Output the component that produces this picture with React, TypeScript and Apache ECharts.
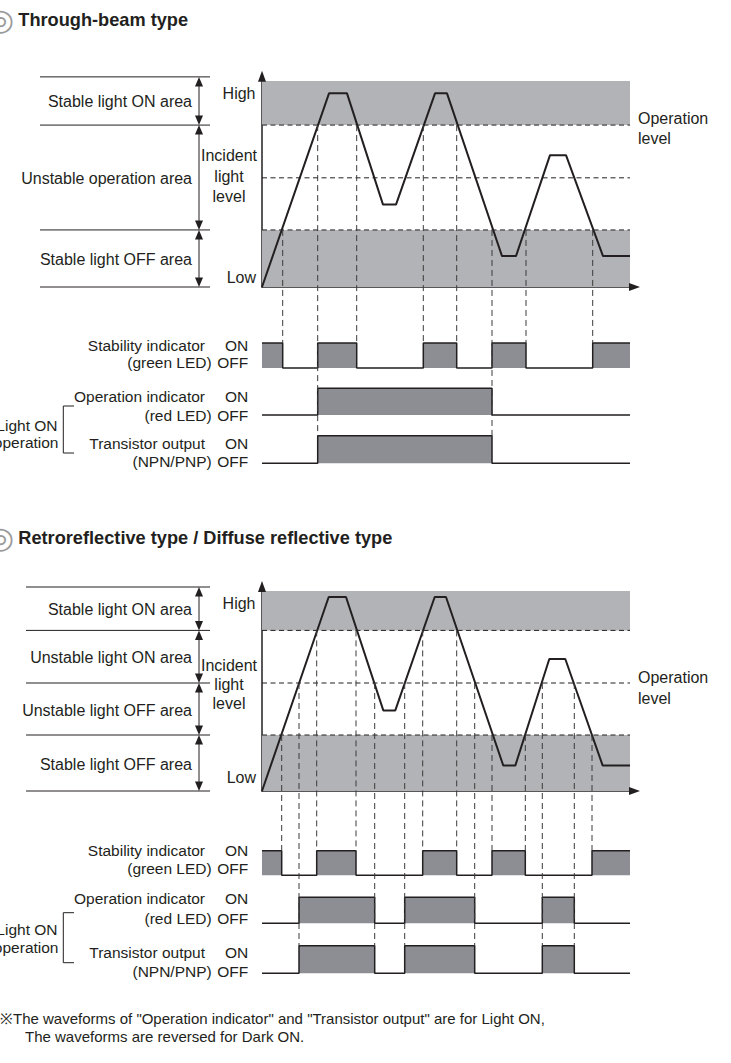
import React, { useEffect, useRef } from "react";
import * as echarts from "echarts";

// ================= DATA =================
const T_END = 368; // end of the recorded time span
const X_MAX = 373; // axis end (arrow)

// ---- Through-beam type ----
const tbWaveTime = [0, 67, 85, 121, 134, 173, 185, 240, 254, 288, 304, 341, 368];
const tbWaveLevel = [0, 94, 94, 40, 40, 94, 94, 15, 15, 64, 64, 15, 15];
const tbThresholds = [78.6, 53, 27.7]; // stable ON limit, operation level, stable OFF limit
const tbZoneBounds = [102, 78.6, 27.7, 0];
const tbZoneLabels = ["Stable light ON area", "Unstable operation area", "Stable light OFF area"];
const tbStability = [[0, 1], [20.7, 0], [55.7, 1], [94.7, 0], [161.3, 1], [194.7, 0], [230, 1], [264, 0], [330.7, 1], [368, 1]];
const tbOperation = [[0, 0], [55.7, 1], [230, 0], [368, 0]];
const tbOutput = [[0, 0], [55.7, 1], [230, 0], [368, 0]];
const tbGuideTime = [20.7, 55.7, 94.7, 161.3, 194.7, 230, 264, 330.7];
const tbGuideFrom = [2, 0, 0, 0, 0, 2, 2, 2]; // index into thresholds
const tbGuideTo = [1, 3, 1, 1, 1, 3, 1, 1]; // 1 stability, 3 transistor output

// ---- Retroreflective / Diffuse reflective type ----
const rrWaveTime = [0, 66.7, 84, 121.3, 133.3, 172.7, 184, 241.3, 253.3, 287.3, 303.3, 340.7, 368];
const rrWaveLevel = [0, 97, 97, 40.3, 40.3, 97, 97, 12.7, 12.7, 66, 66, 12.7, 12.7];
const rrThresholds = [80.3, 54, 28];
const rrZoneBounds = [102, 80.3, 54, 28, 0];
const rrZoneLabels = ["Stable light ON area", "Unstable light ON area", "Unstable light OFF area", "Stable light OFF area"];
const rrStability = [[0, 1], [19.7, 0], [54.7, 1], [94, 0], [160.7, 1], [194.7, 0], [230, 1], [263.3, 0], [330, 1], [368, 1]];
const rrOperation = [[0, 0], [37, 1], [112.7, 0], [142.7, 1], [212.7, 0], [280.3, 1], [312.3, 0], [368, 0]];
const rrOutput = [[0, 0], [37, 1], [112.7, 0], [142.7, 1], [212.7, 0], [280.3, 1], [312.3, 0], [368, 0]];
const rrGuideTime = [19.7, 37, 54.7, 94, 112.7, 142.7, 160.7, 194.7, 212.7, 230, 263.3, 280.3, 312.3, 330];
const rrGuideFrom = [2, 1, 0, 0, 1, 1, 0, 0, 1, 2, 2, 1, 1, 2];
const rrGuideTo = [1, 3, 1, 1, 3, 3, 1, 1, 3, 1, 1, 3, 3, 1];

const signalLabels = [
  ["Stability indicator", "(green LED)"],
  ["Operation indicator", "(red LED)"],
  ["Transistor output", "(NPN/PNP)"],
];
const footnote = [
  "※The waveforms of \"Operation indicator\" and \"Transistor output\" are for Light ON,",
  "The waveforms are reversed for Dark ON.",
];

// ================= STYLE =================
const FONT = "'Liberation Sans', Arial, Helvetica, sans-serif";
const INK = "#231f20";
const BAND = "#b1b3b6";
const FILL = "#8d8e94";
const FS = 15.5;
const FS_ZONE = 16;

const sections = [
  {
    title: "Through-beam type",
    base: 0,
    waveTime: tbWaveTime, waveLevel: tbWaveLevel, thresholds: tbThresholds,
    zoneBounds: tbZoneBounds, zoneLabels: tbZoneLabels,
    signals: [tbStability, tbOperation, tbOutput],
    guideTime: tbGuideTime, guideFrom: tbGuideFrom, guideTo: tbGuideTo,
    grids: [
      { top: 75.85, height: 211.15 },
      { top: 343, height: 25 },
      { top: 388.3, height: 26.7 },
      { top: 435.7, height: 27.6 },
    ],
    yMax: 102.5,
    layout: {
      titleY: 20, zoneLeft: 40, highY: 93, lowY: 277,
      incidentY: [155, 176, 196], opLevelY: [118, 138],
      sigLabelY: [[345, 362], [396.7, 415], [443.3, 461.7]],
      bracket: [406, 453], lightOnY: [425, 442.3],
    },
  },
  {
    title: "Retroreflective type / Diffuse reflective type",
    base: 4,
    waveTime: rrWaveTime, waveLevel: rrWaveLevel, thresholds: rrThresholds,
    zoneBounds: rrZoneBounds, zoneLabels: rrZoneLabels,
    signals: [rrStability, rrOperation, rrOutput],
    guideTime: rrGuideTime, guideFrom: rrGuideFrom, guideTo: rrGuideTo,
    grids: [
      { top: 586, height: 205 },
      { top: 850.7, height: 24.6 },
      { top: 897.3, height: 26 },
      { top: 945.7, height: 27.6 },
    ],
    yMax: 102.5,
    layout: {
      titleY: 538, zoneLeft: 26, highY: 603, lowY: 777,
      incidentY: [665, 684, 703], opLevelY: [677, 698],
      sigLabelY: [[850, 868.3], [898.3, 918.3], [952.3, 971.7]],
      bracket: [912.7, 962.7], lightOnY: [929, 947.3],
    },
  },
];

function txt(text: string, x: number, y: number, align = "left", extra: any = {}) {
  return {
    type: "text",
    x,
    y,
    z: 20,
    silent: true,
    style: {
      text,
      fill: extra.fill || INK,
      fontFamily: extra.fontFamily || FONT,
      fontSize: extra.fontSize || FS,
      fontWeight: extra.fontWeight || "normal",
      textAlign: align,
      align,
      textVerticalAlign: "middle",
      verticalAlign: "middle",
    },
  };
}

export default function App() {
  const ref = useRef<HTMLDivElement>(null);

  useEffect(() => {
    const el = ref.current!;
    const chart = echarts.init(el, undefined, { renderer: "svg", width: 731, height: 1063 });

    const grid: any[] = [];
    const xAxis: any[] = [];
    const yAxis: any[] = [];
    const series: any[] = [];

    sections.forEach((sec) => {
      sec.grids.forEach((g, k) => {
        const idx = sec.base + k;
        grid.push({ left: 262, width: X_MAX, top: g.top, height: g.height, containLabel: false });
        const isWave = k === 0;
        const axisLine = {
          show: isWave,
          lineStyle: { color: INK, width: 1.5 },
        };
        xAxis.push({
          type: "value", gridIndex: idx, min: 0, max: X_MAX, show: isWave,
          axisLine, axisTick: { show: false }, axisLabel: { show: false }, splitLine: { show: false },
        });
        yAxis.push({
          type: "value", gridIndex: idx, min: 0, max: isWave ? sec.yMax : 1, show: isWave,
          axisLine, axisTick: { show: false }, axisLabel: { show: false }, splitLine: { show: false },
        });
      });

      const b = sec.base;
      // grey stable bands
      series.push({
        type: "line", xAxisIndex: b, yAxisIndex: b, data: [[0, 0]], symbol: "none",
        lineStyle: { width: 0 }, silent: true, z: 1,
        markArea: {
          silent: true,
          itemStyle: { color: BAND, opacity: 1 },
          data: [
            [{ coord: [0, sec.thresholds[0]] }, { coord: [T_END, 100] }],
            [{ coord: [0, 0] }, { coord: [T_END, sec.thresholds[2]] }],
          ],
        },
      });
      // threshold dashed lines
      sec.thresholds.forEach((thr) => {
        series.push({
          type: "line", xAxisIndex: b, yAxisIndex: b, data: [[0, thr], [T_END, thr]],
          symbol: "none", silent: true, z: 3,
          lineStyle: { color: INK, width: 1, type: [5, 3.5] },
        });
      });
      // incident light waveform
      series.push({
        type: "line", xAxisIndex: b, yAxisIndex: b,
        data: sec.waveTime.map((t, i) => [t, sec.waveLevel[i]]),
        symbol: "none", silent: true, z: 5, clip: false,
        lineStyle: { color: INK, width: 2 },
      });
      // signal panels
      sec.signals.forEach((sig, k) => {
        series.push({
          type: "line", xAxisIndex: b + k + 1, yAxisIndex: b + k + 1,
          data: sig, step: "end", symbol: "none", silent: true, z: 4, clip: false,
          lineStyle: { color: INK, width: 1.5 },
          areaStyle: { color: FILL, opacity: 1, origin: "start" },
        });
      });
    });

    chart.setOption({ animation: false, grid, xAxis, yAxis, series });

    const els: any[] = [];
    sections.forEach((sec) => {
      const b = sec.base;
      const L = sec.layout;
      // title
      els.push(txt("◎", 14, L.titleY - 1, "right", { fontSize: 30, fill: "#9a9a9a", fontFamily: "'DejaVu Sans', sans-serif" }));
      els.push(txt(sec.title, 18.3, L.titleY, "left", { fontSize: 18.2, fontWeight: "bold" }));

      // axis arrowheads at the axis ends
      const yEnd = chart.convertToPixel({ gridIndex: b } as any, [0, sec.yMax]);
      const xEnd = chart.convertToPixel({ gridIndex: b } as any, [X_MAX, 0]);
      els.push({
        type: "polygon", z: 12, silent: true,
        shape: { points: [[yEnd[0], yEnd[1] - 5], [yEnd[0] - 4, yEnd[1] + 6], [yEnd[0] + 4, yEnd[1] + 6]] },
        style: { fill: INK },
      });
      els.push({
        type: "polygon", z: 12, silent: true,
        shape: { points: [[xEnd[0] + 5, xEnd[1]], [xEnd[0] - 6, xEnd[1] - 4], [xEnd[0] - 6, xEnd[1] + 4]] },
        style: { fill: INK },
      });

      // zone boundaries and double arrows
      const ys = sec.zoneBounds.map((v) => chart.convertToPixel({ gridIndex: b } as any, [0, v])[1]);
      ys.forEach((y) => {
        els.push({ type: "line", z: 10, silent: true, shape: { x1: L.zoneLeft, y1: y, x2: 210, y2: y }, style: { stroke: INK, lineWidth: 1 } });
      });
      const ax = 199;
      for (let i = 0; i < ys.length - 1; i++) {
        const y1 = ys[i], y2 = ys[i + 1];
        els.push({ type: "line", z: 10, silent: true, shape: { x1: ax, y1: y1 + 8, x2: ax, y2: y2 - 8 }, style: { stroke: INK, lineWidth: 1 } });
        els.push({ type: "polygon", z: 10, silent: true, shape: { points: [[ax, y1], [ax - 4, y1 + 9.5], [ax + 4, y1 + 9.5]] }, style: { fill: INK } });
        els.push({ type: "polygon", z: 10, silent: true, shape: { points: [[ax, y2], [ax - 4, y2 - 9.5], [ax + 4, y2 - 9.5]] }, style: { fill: INK } });
        els.push(txt(sec.zoneLabels[i], 192, (y1 + y2) / 2 + 1, "right", { fontSize: FS_ZONE }));
      }

      // axis labels
      els.push(txt("High", 255.5, L.highY, "right", { fontSize: FS_ZONE }));
      els.push(txt("Low", 256, L.lowY, "right", { fontSize: FS_ZONE }));
      ["Incident", "light", "level"].forEach((s, i) => els.push(txt(s, 229, L.incidentY[i], "center", { fontSize: FS_ZONE })));
      ["Operation", "level"].forEach((s, i) => els.push(txt(s, 638, L.opLevelY[i], "left", { fontSize: FS_ZONE })));

      // dashed guides from threshold crossings to signal panels
      sec.guideTime.forEach((t, i) => {
        const p1 = chart.convertToPixel({ gridIndex: b } as any, [t, sec.thresholds[sec.guideFrom[i]]]);
        const p2 = chart.convertToPixel({ gridIndex: b + sec.guideTo[i] } as any, [t, 1]);
        els.push({
          type: "line", z: 9, silent: true,
          shape: { x1: p1[0], y1: p1[1], x2: p2[0], y2: p2[1] },
          style: { stroke: "#3a3a3a", lineWidth: 1, lineDash: [6, 4] },
        });
      });

      // signal labels
      signalLabels.forEach((pair, k) => {
        els.push(txt(pair[0], 205, L.sigLabelY[k][0], "right"));
        els.push(txt(pair[1], 211.7, L.sigLabelY[k][1], "right"));
        els.push(txt("ON", 248.3, L.sigLabelY[k][0], "right"));
        els.push(txt("OFF", 248.3, L.sigLabelY[k][1], "right"));
      });

      // Light ON operation bracket
      const [bt, bb] = L.bracket;
      els.push({
        type: "polyline", z: 10, silent: true,
        shape: { points: [[74, bt], [63.3, bt], [63.3, bb], [74, bb]] },
        style: { stroke: INK, lineWidth: 1, fill: "none" },
      });
      els.push(txt("Light ON", 57.5, L.lightOnY[0], "right"));
      els.push(txt("operation", 58.5, L.lightOnY[1], "right"));
    });

    els.push(txt(footnote[0], 0, 1018, "left", { fontSize: 15 }));
    els.push(txt(footnote[1], 25, 1036.7, "left", { fontSize: 15 }));

    chart.setOption({ graphic: { elements: els } });

    return () => chart.dispose();
  }, []);

  return (
    <div
      ref={ref}
      style={{ position: "fixed", left: 0, top: 0, width: 731, height: 1063, background: "#ffffff" }}
    />
  );
}
